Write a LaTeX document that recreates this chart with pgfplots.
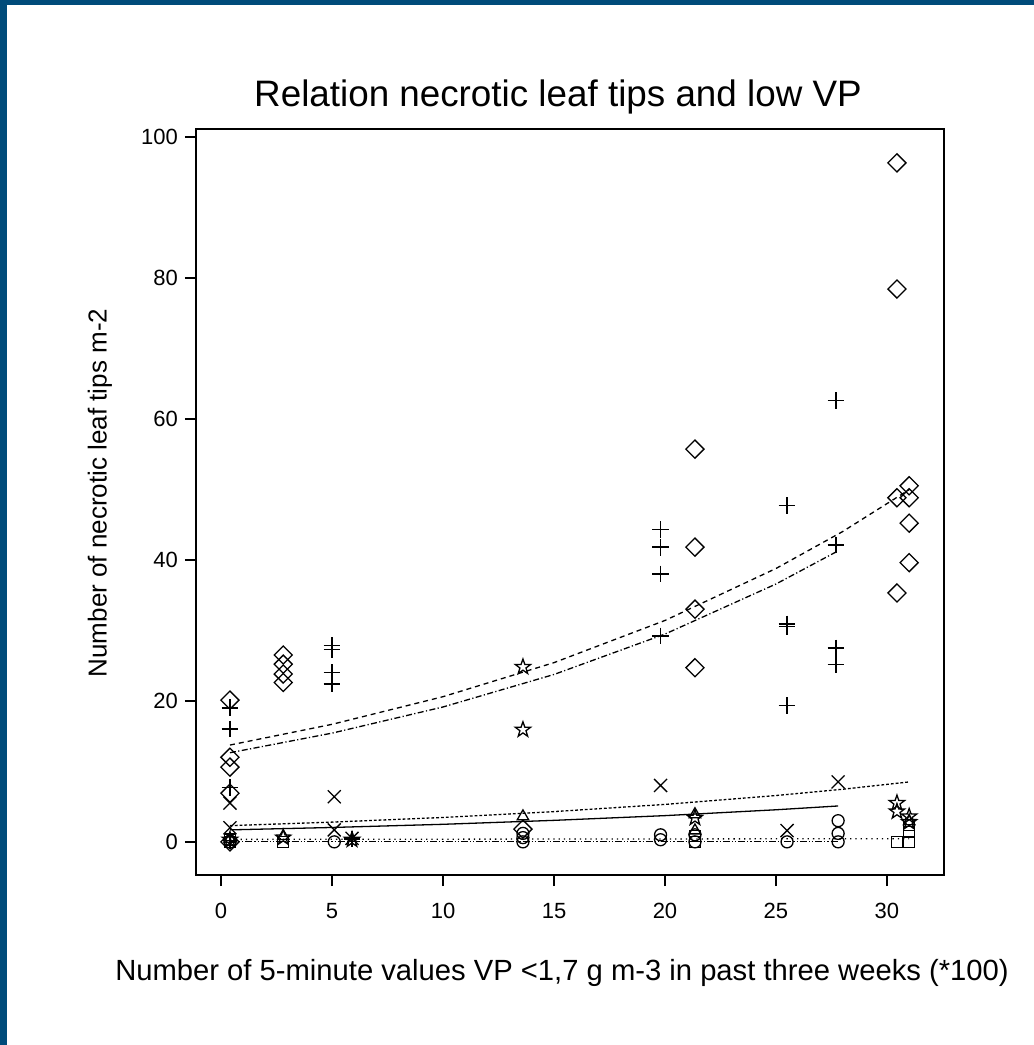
\documentclass[border=0pt]{standalone}
\usepackage{fontspec}
\setmainfont{Liberation Sans}
\usepackage{pgfplots}
\pgfplotsset{compat=1.18}
\usetikzlibrary{plotmarks}
\definecolor{frameblue}{RGB}{0,75,122}

% outline five-pointed star, like R's open star symbol
\pgfdeclareplotmark{ostar}{%
  \pgfpathmoveto{\pgfpoint{0pt}{\pgfplotmarksize}}%
  \pgfpathlineto{\pgfpoint{-0.235\pgfplotmarksize}{0.324\pgfplotmarksize}}%
  \pgfpathlineto{\pgfpoint{-0.951\pgfplotmarksize}{0.309\pgfplotmarksize}}%
  \pgfpathlineto{\pgfpoint{-0.380\pgfplotmarksize}{-0.124\pgfplotmarksize}}%
  \pgfpathlineto{\pgfpoint{-0.588\pgfplotmarksize}{-0.809\pgfplotmarksize}}%
  \pgfpathlineto{\pgfpoint{0pt}{-0.4\pgfplotmarksize}}%
  \pgfpathlineto{\pgfpoint{0.588\pgfplotmarksize}{-0.809\pgfplotmarksize}}%
  \pgfpathlineto{\pgfpoint{0.380\pgfplotmarksize}{-0.124\pgfplotmarksize}}%
  \pgfpathlineto{\pgfpoint{0.951\pgfplotmarksize}{0.309\pgfplotmarksize}}%
  \pgfpathlineto{\pgfpoint{0.235\pgfplotmarksize}{0.324\pgfplotmarksize}}%
  \pgfpathclose
  \pgfusepathqstroke}

\begin{document}
\begin{tikzpicture}
\useasboundingbox (0,0) rectangle (517pt,522.5pt);
\fill[white] (0,0) rectangle (517pt,522.5pt);
\fill[frameblue] (0,0) rectangle (3.5pt,522.5pt);
\fill[frameblue] (0,520pt) rectangle (517pt,522.5pt);

\begin{axis}[
    at={(98pt,85pt)}, anchor=south west,
    scale only axis, width=374pt, height=373pt,
    xmin=-1.13, xmax=32.57, ymin=-4.7, ymax=101.1,
    axis line style={line width=1.2pt},
    tick pos=left, tick align=outside,
    major tick length=5.5pt,
    tick style={line width=1pt, black},
    xtick={0,5,...,30}, ytick={0,20,...,100},
    ticklabel style={font=\fontsize{11}{13}\selectfont},
    xticklabel style={yshift=-5pt},
    /pgf/number format/assume math mode=true,
    every axis plot/.append style={black, line width=0.65pt},
  ]

% diamonds
\addplot[only marks, mark=square, mark size=3.2pt, mark options={rotate=45}] coordinates {
  (0.4,20.1) (0.4,12.0) (0.4,10.6) (0.4,6.9) (0.4,0)
  (2.8,26.5) (2.8,25.2) (2.8,23.8) (2.8,22.6)
  (13.6,1.8) (21.35,55.7) (21.35,41.8) (21.35,33.0) (21.35,24.7)
  (30.45,96.3) (30.45,78.4) (30.45,48.8) (30.45,35.3)
  (31.0,50.5) (31.0,48.8) (31.0,45.2) (31.0,39.6)
};
% plus
\addplot[only marks, mark=+, mark size=4.2pt] coordinates {
  (0.4,19.0) (0.4,16.0) (0.4,7.7) (0.4,0.2)
  (5.0,27.8) (5.0,27.3) (5.0,24.0) (5.0,22.4) (5.9,0.4)
  (19.8,44.3) (19.8,41.8) (19.8,38.0) (19.8,29.2)
  (25.5,47.7) (25.5,30.9) (25.5,30.5) (25.5,19.3)
  (27.7,62.6) (27.7,42.1) (27.7,27.5) (27.7,25.2)
};
% crosses
\addplot[only marks, mark=x, mark size=4.6pt] coordinates {
  (0.4,5.5) (0.4,2.0) (5.1,6.4) (5.1,1.7) (5.9,0.5)
  (19.8,8.0) (25.5,1.6) (27.8,8.5)
};
% stars
\addplot[only marks, mark=ostar, mark size=4pt] coordinates {
  (0.4,0.3) (2.8,0.6) (5.9,0.3) (13.6,24.8) (13.6,15.9)
  (21.35,3.4) (30.45,5.5) (30.45,4.3) (31.0,3.6) (31.0,2.8)
};
% circles
\addplot[only marks, mark=o, mark size=3pt] coordinates {
  (0.4,0) (5.1,0) (13.6,0) (13.6,0.6) (13.6,1.2)
  (19.8,1.0) (19.8,0.3) (21.35,1.0) (21.35,0)
  (25.5,0) (27.8,3.0) (27.8,1.2) (27.8,0)
};
% squares
\addplot[only marks, mark=square, mark size=2.8pt] coordinates {
  (0.4,0) (0.4,0.3) (2.8,0) (21.35,0) (21.35,0.8)
  (30.45,0) (31.0,0) (31.0,1.4) (31.0,2.4)
};
% triangles
\addplot[only marks, mark=triangle, mark size=3.3pt] coordinates {
  (0.4,0.4) (2.8,0.8) (13.6,3.6) (21.35,3.9) (21.35,1.6) (31.0,2.9)
};

% fitted curves
\addplot[no marks, dash pattern=on 2.5pt off 2pt] coordinates {
  (0.4,13.73) (5,16.67) (10,20.59) (15,25.42) (20,31.40) (25,38.77) (28,44.0) (31,49.95)
};
\addplot[no marks, dash pattern=on 3pt off 1.2pt on 0.6pt off 1.2pt] coordinates {
  (0.4,12.64) (5,15.42) (10,19.13) (15,23.74) (20,29.47) (25,36.57) (27.8,41.27)
};
\addplot[no marks, dash pattern=on 1.4pt off 1pt] coordinates {
  (0.4,2.30) (5,2.80) (10,3.46) (15,4.29) (20,5.31) (25,6.57) (28,7.46) (31,8.50)
};
\addplot[no marks] coordinates {
  (0.4,1.70) (5,2.04) (10,2.49) (15,3.05) (20,3.72) (25,4.55) (27.8,5.09)
};
\addplot[no marks, dash pattern=on 3.5pt off 1pt on 0.6pt off 1pt on 0.6pt off 1pt] coordinates {
  (0.4,0.1) (27.8,0.1)
};
\addplot[no marks, dotted] coordinates {
  (0.4,0.35) (31,0.45)
};
\end{axis}

\node[font=\fontsize{18.4}{21}\selectfont] at (279pt,474pt) {Relation necrotic leaf tips and low VP};
\node[font=\fontsize{14.6}{17}\selectfont] at (281pt,36pt) {Number of 5-minute values VP <1,7 g m-3 in past three weeks (*100)};
\node[rotate=90, font=\fontsize{13}{16}\selectfont] at (50pt,276pt) {Number of necrotic leaf tips m-2};
\end{tikzpicture}
\end{document}
